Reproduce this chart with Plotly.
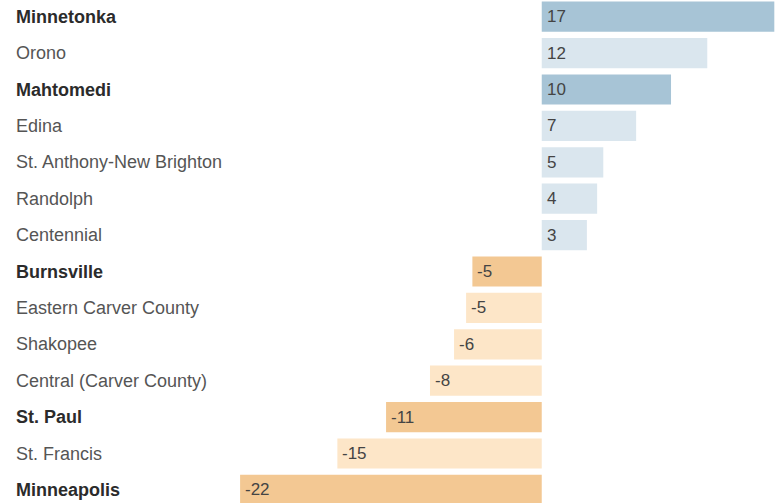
import plotly.graph_objects as go

districts = ["Minnetonka", "Orono", "Mahtomedi", "Edina", "St. Anthony-New Brighton",
             "Randolph", "Centennial", "Burnsville", "Eastern Carver County", "Shakopee",
             "Central (Carver County)", "St. Paul", "St. Francis", "Minneapolis"]
values = [17.0, 12.1, 9.45, 6.9, 4.5, 4.05, 3.3, -5.07, -5.53, -6.41, -8.17, -11.38, -14.94, -22.05]
value_labels = ["17", "12", "10", "7", "5", "4", "3", "-5", "-5", "-6", "-8", "-11", "-15", "-22"]
highlight = [True, False, True, False, False, False, False, True, False, False, False, True, False, True]

POS_DARK, POS_LIGHT = "#a7c4d6", "#dae6ee"
NEG_DARK, NEG_LIGHT = "#f3c893", "#fde6c8"

colors = []
for v, h in zip(values, highlight):
    if v >= 0:
        colors.append(POS_DARK if h else POS_LIGHT)
    else:
        colors.append(NEG_DARK if h else NEG_LIGHT)

ypos = list(range(len(districts)))

fig = go.Figure(go.Bar(
    x=values, y=ypos, orientation="h",
    marker=dict(color=colors, line=dict(width=0)),
    width=0.83, hoverinfo="skip",
))

annotations = []
for i, (name, v, lab, h) in enumerate(zip(districts, values, value_labels, highlight)):
    annotations.append(dict(
        x=14 / 778, xref="paper", y=i, yref="y",
        text=f"<b>{name}</b>" if h else name,
        xanchor="left", yanchor="middle", showarrow=False,
        font=dict(family="Liberation Sans, Arial, sans-serif", size=18,
                  color="#2b2b2b" if h else "#555555"),
    ))
    annotations.append(dict(
        x=min(0, v), xref="x", y=i, yref="y",
        text=lab, xanchor="left", yanchor="middle", showarrow=False, xshift=3,
        font=dict(family="Liberation Sans, Arial, sans-serif", size=17, color="#444444"),
    ))

fig.update_layout(
    width=778, height=503,
    margin=dict(l=0, r=0, t=0, b=0),
    paper_bgcolor="white", plot_bgcolor="white",
    showlegend=False,
    xaxis=dict(range=[-39.6, 17.27], visible=False, fixedrange=True),
    yaxis=dict(range=[13.36, -0.459], visible=False, fixedrange=True),
    annotations=annotations,
)

fig.write_html("out.html", config={"displayModeBar": False},
               post_script="document.body.style.margin='0';document.body.style.overflow='hidden';")
